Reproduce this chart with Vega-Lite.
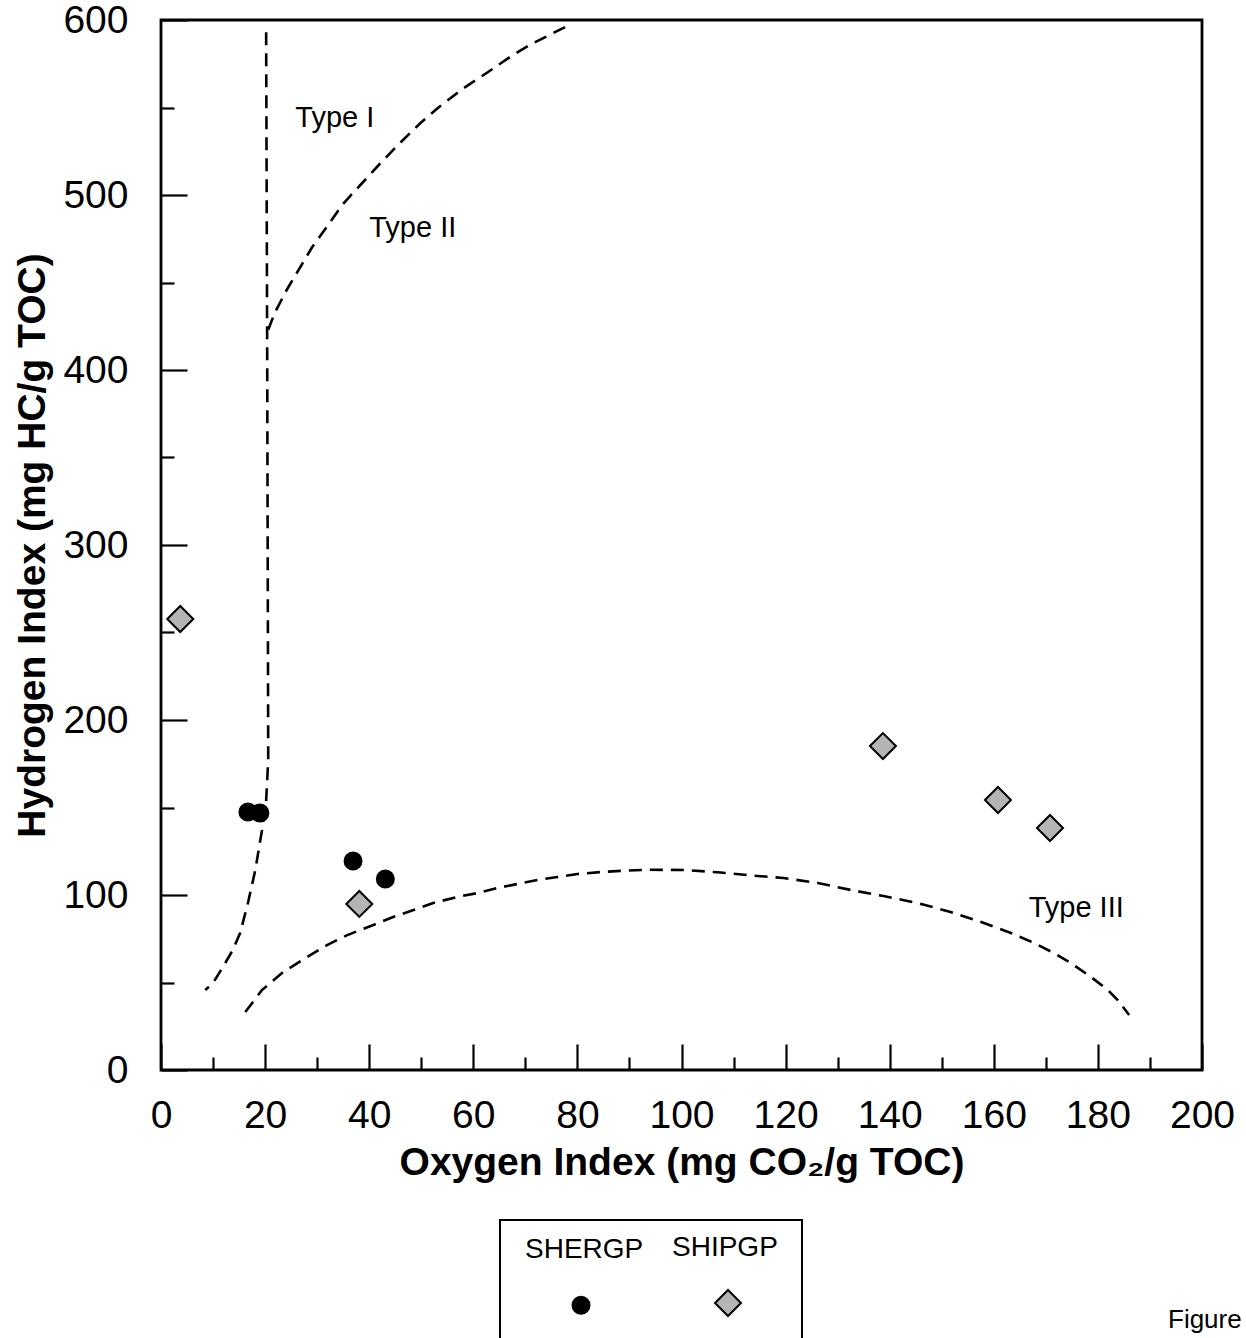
{
  "$schema": "https://vega.github.io/schema/vega-lite/v6.json",
  "autosize": {"type": "none"},
  "padding": {"left": 161, "top": 20, "right": 44, "bottom": 268},
  "width": 1041,
  "height": 1050,
  "background": "white",
  "title": {"text": "Figure", "orient": "bottom", "anchor": "end", "frame": "group", "align": "left", "dx": -34, "offset": -38, "fontSize": 26, "fontWeight": "normal", "font": "Liberation Sans", "color": "black"},
  "config": {
    "font": "Liberation Sans",
    "view": {"stroke": "black", "strokeWidth": 2.8},
    "style": {"guide-label": {"lineHeight": 110}},
    "legend": {"strokeWidth": 2},
    "axis": {"grid": false, "domain": false, "tickColor": "black", "tickWidth": 2.2, "labelColor": "black", "titleColor": "black", "labelFont": "Liberation Sans", "titleFont": "Liberation Sans"}
  },
  "datasets": {
    "curves": [
      {"curve": "c1", "ord": 1, "oi": 20.2, "hi": 593},
      {"curve": "c1", "ord": 2, "oi": 20.4, "hi": 411},
      {"curve": "c1", "ord": 3, "oi": 20.6, "hi": 177},
      {"curve": "c1", "ord": 4, "oi": 20.2, "hi": 154},
      {"curve": "c1", "ord": 5, "oi": 19.4, "hi": 137},
      {"curve": "c1", "ord": 6, "oi": 18.1, "hi": 114},
      {"curve": "c1", "ord": 7, "oi": 16.7, "hi": 95.4},
      {"curve": "c1", "ord": 8, "oi": 15.2, "hi": 78.3},
      {"curve": "c1", "ord": 9, "oi": 13.8, "hi": 68.6},
      {"curve": "c1", "ord": 10, "oi": 11.9, "hi": 58.9},
      {"curve": "c1", "ord": 11, "oi": 10.0, "hi": 49.7},
      {"curve": "c1", "ord": 12, "oi": 8.5, "hi": 45.7},
      {"curve": "c2", "ord": 1, "oi": 20.6, "hi": 423},
      {"curve": "c2", "ord": 2, "oi": 21.9, "hi": 433},
      {"curve": "c2", "ord": 3, "oi": 24.2, "hi": 446},
      {"curve": "c2", "ord": 4, "oi": 26.2, "hi": 456},
      {"curve": "c2", "ord": 5, "oi": 29.0, "hi": 470},
      {"curve": "c2", "ord": 6, "oi": 31.9, "hi": 482},
      {"curve": "c2", "ord": 7, "oi": 35.0, "hi": 495},
      {"curve": "c2", "ord": 8, "oi": 38.7, "hi": 507},
      {"curve": "c2", "ord": 9, "oi": 42.1, "hi": 518},
      {"curve": "c2", "ord": 10, "oi": 46.0, "hi": 530},
      {"curve": "c2", "ord": 11, "oi": 49.8, "hi": 541},
      {"curve": "c2", "ord": 12, "oi": 53.3, "hi": 550},
      {"curve": "c2", "ord": 13, "oi": 58.1, "hi": 561},
      {"curve": "c2", "ord": 14, "oi": 62.7, "hi": 570},
      {"curve": "c2", "ord": 15, "oi": 67.1, "hi": 579},
      {"curve": "c2", "ord": 16, "oi": 71.0, "hi": 586},
      {"curve": "c2", "ord": 17, "oi": 79.0, "hi": 598},
      {"curve": "c3", "ord": 1, "oi": 16.2, "hi": 33.1},
      {"curve": "c3", "ord": 2, "oi": 19.4, "hi": 45.7},
      {"curve": "c3", "ord": 3, "oi": 23.5, "hi": 56},
      {"curve": "c3", "ord": 4, "oi": 28.1, "hi": 64.6},
      {"curve": "c3", "ord": 5, "oi": 31.9, "hi": 71.4},
      {"curve": "c3", "ord": 6, "oi": 35.8, "hi": 77.1},
      {"curve": "c3", "ord": 7, "oi": 40.8, "hi": 82.9},
      {"curve": "c3", "ord": 8, "oi": 44.6, "hi": 87.4},
      {"curve": "c3", "ord": 9, "oi": 48.5, "hi": 91.4},
      {"curve": "c3", "ord": 10, "oi": 52.3, "hi": 95.4},
      {"curve": "c3", "ord": 11, "oi": 56.9, "hi": 98.9},
      {"curve": "c3", "ord": 12, "oi": 60.8, "hi": 101.1},
      {"curve": "c3", "ord": 13, "oi": 64.6, "hi": 104},
      {"curve": "c3", "ord": 14, "oi": 68.5, "hi": 106.3},
      {"curve": "c3", "ord": 15, "oi": 72.3, "hi": 108.6},
      {"curve": "c3", "ord": 16, "oi": 76.2, "hi": 110.3},
      {"curve": "c3", "ord": 17, "oi": 80.0, "hi": 112},
      {"curve": "c3", "ord": 18, "oi": 84.4, "hi": 113.1},
      {"curve": "c3", "ord": 19, "oi": 88.3, "hi": 113.8},
      {"curve": "c3", "ord": 20, "oi": 93.1, "hi": 114.4},
      {"curve": "c3", "ord": 21, "oi": 100.4, "hi": 114.3},
      {"curve": "c3", "ord": 22, "oi": 106.9, "hi": 113.0},
      {"curve": "c3", "ord": 23, "oi": 113.3, "hi": 111.2},
      {"curve": "c3", "ord": 24, "oi": 119.6, "hi": 109.7},
      {"curve": "c3", "ord": 25, "oi": 126.2, "hi": 106.9},
      {"curve": "c3", "ord": 26, "oi": 132.5, "hi": 102.9},
      {"curve": "c3", "ord": 27, "oi": 138.8, "hi": 99.4},
      {"curve": "c3", "ord": 28, "oi": 145.4, "hi": 95.4},
      {"curve": "c3", "ord": 29, "oi": 151.7, "hi": 90.3},
      {"curve": "c3", "ord": 30, "oi": 158.1, "hi": 84},
      {"curve": "c3", "ord": 31, "oi": 163.3, "hi": 78.3},
      {"curve": "c3", "ord": 32, "oi": 167.7, "hi": 72.6},
      {"curve": "c3", "ord": 33, "oi": 171.5, "hi": 66.9},
      {"curve": "c3", "ord": 34, "oi": 174.8, "hi": 61.1},
      {"curve": "c3", "ord": 35, "oi": 178.7, "hi": 53.1},
      {"curve": "c3", "ord": 36, "oi": 181.9, "hi": 45.7},
      {"curve": "c3", "ord": 37, "oi": 183.8, "hi": 40},
      {"curve": "c3", "ord": 38, "oi": 186.0, "hi": 31.4}
    ],
    "labels": [
      {"label": "Type I", "oi": 25.8, "hi": 539},
      {"label": "Type II", "oi": 40.0, "hi": 476},
      {"label": "Type III", "oi": 166.7, "hi": 87.4}
    ],
    "samples": [
      {"group": "SHERGP", "oi": 16.7, "hi": 147.4},
      {"group": "SHERGP", "oi": 19.0, "hi": 146.9},
      {"group": "SHERGP", "oi": 36.9, "hi": 119.4},
      {"group": "SHERGP", "oi": 43.1, "hi": 109.1},
      {"group": "SHIPGP", "oi": 3.7, "hi": 257.7},
      {"group": "SHIPGP", "oi": 38.1, "hi": 94.9},
      {"group": "SHIPGP", "oi": 138.7, "hi": 185.1},
      {"group": "SHIPGP", "oi": 160.8, "hi": 154.3},
      {"group": "SHIPGP", "oi": 170.8, "hi": 138.3}
    ]
  },
  "layer": [
    {
      "data": {"name": "curves"},
      "mark": {"type": "line", "stroke": "black", "strokeWidth": 2.6, "strokeDash": [13, 8]},
      "encoding": {
        "x": {"field": "oi", "type": "quantitative", "scale": {"domain": [0, 200], "nice": false},
              "axis": {"orient": "bottom", "values": [10, 30, 50, 70, 90, 110, 130, 150, 170, 190], "tickSize": -13, "labels": false, "title": null}},
        "y": {"field": "hi", "type": "quantitative", "scale": {"domain": [0, 600], "nice": false},
              "axis": {"orient": "left", "values": [50, 150, 250, 350, 450, 550], "tickSize": -13, "labels": false, "title": null}},
        "detail": {"field": "curve"},
        "order": {"field": "ord", "type": "quantitative"}
      }
    },
    {
      "data": {"name": "labels"},
      "mark": {"type": "text", "align": "left", "baseline": "alphabetic", "fontSize": 29, "color": "black"},
      "encoding": {
        "x": {"field": "oi", "type": "quantitative", "axis": null},
        "y": {"field": "hi", "type": "quantitative", "axis": null},
        "text": {"field": "label"}
      }
    },
    {
      "data": {"name": "samples"},
      "mark": {"type": "point", "strokeWidth": 2, "opacity": 1, "fillOpacity": 1, "strokeOpacity": 1},
      "encoding": {
        "x": {"field": "oi", "type": "quantitative",
              "axis": {"orient": "bottom", "values": [0, 20, 40, 60, 80, 100, 120, 140, 160, 180, 200], "tickSize": -26, "labelFontSize": 39, "labelPadding": 52, "labelFlush": false, "labelOverlap": false,
                       "title": "Oxygen Index (mg CO₂/g TOC)", "titleFontSize": 39, "titleFontWeight": "bold", "titlePadding": 8}},
        "y": {"field": "hi", "type": "quantitative",
              "axis": {"orient": "left", "values": [0, 100, 200, 300, 400, 500, 600], "tickSize": -26, "labelFontSize": 39, "labelPadding": 59, "labelFlush": false, "labelOverlap": false,
                       "title": "Hydrogen Index (mg HC/g TOC)", "titleFontSize": 39, "titleFontWeight": "bold", "titlePadding": 10}},
        "shape": {"field": "group", "type": "nominal", "title": " ",
                  "scale": {"domain": ["SHERGP", "SHIPGP"], "range": ["circle", "diamond"]},
                  "legend": {"orient": "none", "legendX": 339, "legendY": 1200, "direction": "horizontal", "title": " ", "titleFontSize": 37, "titlePadding": 8, "labelFontSize": 28, "labelAlign": "left", "labelBaseline": "line-bottom", "labelOffset": -70, "symbolOffset": 43, "columnPadding": 27, "padding": 24, "strokeColor": "black", "symbolStrokeColor": "black", "symbolStrokeWidth": 2, "labelColor": "black", "labelLimit": 300}},
        "fill": {"field": "group", "type": "nominal", "title": " ",
                 "scale": {"domain": ["SHERGP", "SHIPGP"], "range": ["black", "#b4b4b4"]},
                 "legend": {"orient": "none", "legendX": 339, "legendY": 1200, "direction": "horizontal", "title": " ", "titleFontSize": 37, "titlePadding": 8, "labelFontSize": 28, "labelAlign": "left", "labelBaseline": "line-bottom", "labelOffset": -70, "symbolOffset": 43, "columnPadding": 27, "padding": 24, "strokeColor": "black", "symbolStrokeColor": "black", "symbolStrokeWidth": 2, "labelColor": "black", "labelLimit": 300}},
        "stroke": {"field": "group", "type": "nominal", "title": " ",
                 "scale": {"domain": ["SHERGP", "SHIPGP"], "range": ["black", "black"]},
                 "legend": {"orient": "none", "legendX": 339, "legendY": 1200, "direction": "horizontal", "title": " ", "titleFontSize": 37, "titlePadding": 8, "labelFontSize": 28, "labelAlign": "left", "labelBaseline": "line-bottom", "labelOffset": -70, "symbolOffset": 43, "columnPadding": 27, "padding": 24, "strokeColor": "black", "symbolStrokeColor": "black", "symbolStrokeWidth": 2, "labelColor": "black", "labelLimit": 300}},
        "size": {"field": "group", "type": "nominal", "title": " ",
                 "scale": {"domain": ["SHERGP", "SHIPGP"], "range": [289, 676]},
                 "legend": {"orient": "none", "legendX": 339, "legendY": 1200, "direction": "horizontal", "title": " ", "titleFontSize": 37, "titlePadding": 8, "labelFontSize": 28, "labelAlign": "left", "labelBaseline": "line-bottom", "labelOffset": -70, "symbolOffset": 43, "columnPadding": 27, "padding": 24, "strokeColor": "black", "symbolStrokeColor": "black", "symbolStrokeWidth": 2, "labelColor": "black", "labelLimit": 300}}
      }
    }
  ],
  "resolve": {"axis": {"x": "independent", "y": "independent"}}
}
